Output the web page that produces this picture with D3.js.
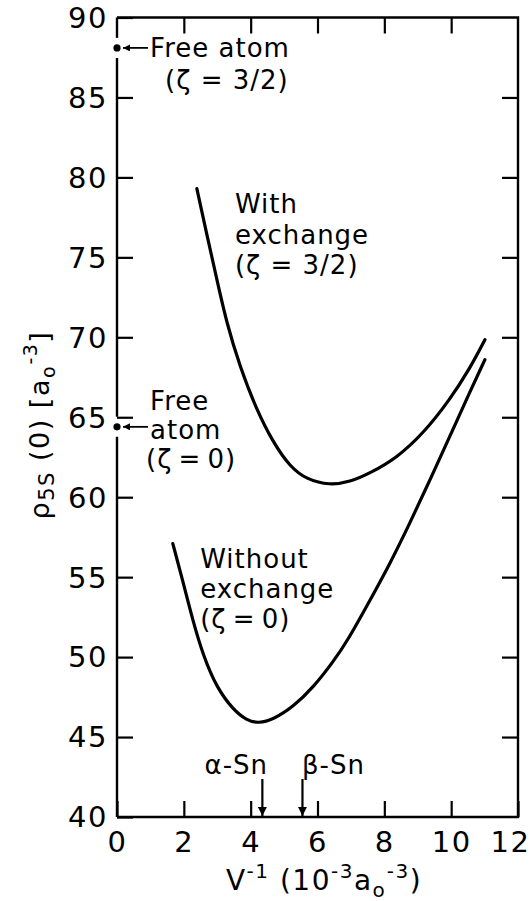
<!DOCTYPE html>
<html>
<head>
<meta charset="utf-8">
<script src="https://cdn.jsdelivr.net/npm/d3@7"></script>
<style>
  html, body { margin: 0; padding: 0; background: #fff; }
  svg { display: block; }
  text { font-family: "DejaVu Sans", sans-serif; fill: #000; }
</style>
</head>
<body>
<div id="chart"></div>
<script>
// axis ticks
const xTicks = [0, 2, 4, 6, 8, 10, 12];
const yTicks = [40, 45, 50, 55, 60, 65, 70, 75, 80, 85, 90];

// with exchange (zeta = 3/2)
const withX = [2.39, 2.68, 2.98, 3.28, 3.68, 4.18, 4.68, 5.18, 5.68, 6.37, 6.97, 7.57, 8.37, 9.17, 9.96, 10.56, 11.01];
const withY = [79.3, 76.5, 73.7, 70.9, 68.15, 65.45, 63.4, 61.9, 61.1, 60.75, 60.95, 61.5, 62.45, 64.0, 66.1, 68.05, 69.85];

// without exchange (zeta = 0)
const withoutX = [1.67, 1.99, 2.28, 2.58, 2.98, 3.48, 3.88, 4.23, 4.68, 5.28, 5.87, 6.47, 6.92, 7.57, 8.17, 8.77, 9.37, 9.96, 10.56, 11.01];
const withoutY = [57.1, 54.6, 52.2, 50.1, 48.1, 46.7, 46.05, 45.85, 46.1, 46.9, 48.1, 49.7, 51.1, 53.55, 55.85, 58.4, 61.1, 63.8, 66.6, 68.6];

// free atom values at V^-1 = 0
const freeAtomY = [88.1, 64.4];

// crystal markers
const phaseNames = ["α-Sn", "β-Sn"];
const phaseX = [4.35, 5.55];

const width = 532, height = 901;
const svg = d3.select("#chart").append("svg")
  .attr("width", width)
  .attr("height", height);

const x = d3.scaleLinear().domain([0, 12]).range([117, 518]);
const y = d3.scaleLinear().domain([40, 90]).range([817, 17.5]);

const defs = svg.append("defs");
const addHead = (id, w, h) => defs.append("marker")
  .attr("id", id)
  .attr("viewBox", "0 0 10 10")
  .attr("refX", 10).attr("refY", 5)
  .attr("markerWidth", h).attr("markerHeight", w)
  .attr("markerUnits", "userSpaceOnUse")
  .attr("orient", "auto")
  .append("path")
  .attr("d", "M0,0L10,5L0,10z")
  .attr("fill", "#000");
addHead("headBig", 9, 15);
addHead("headSmall", 7, 10);

// frame (top, right, bottom)
svg.append("path")
  .attr("d", `M${x(0)},${y(90)}H${x(12)}V${y(40)}H${x(0)}`)
  .attr("fill", "none")
  .attr("stroke", "#000")
  .attr("stroke-width", 2.4);

// left axis line with gaps around the free atom dots
const gap = 10;
const dotsPx = freeAtomY.map(d => y(d));
const segs = [[y(90), dotsPx[0] - gap], [dotsPx[0] + gap, dotsPx[1] - gap], [dotsPx[1] + gap, y(40)]];
svg.append("g").selectAll("line")
  .data(segs)
  .enter().append("line")
  .attr("x1", x(0)).attr("x2", x(0))
  .attr("y1", d => d[0]).attr("y2", d => d[1])
  .attr("stroke", "#000")
  .attr("stroke-width", 2.4);

// axes, ticks pointing inward
const tickLen = 16;
const styleAxis = g => {
  g.select(".domain").remove();
  g.selectAll(".tick line").attr("stroke", "#000").attr("stroke-width", 2.2);
  g.selectAll(".tick text")
    .attr("font-size", 29)
    .attr("letter-spacing", 1.5)
    .attr("font-family", "DejaVu Sans");
};

svg.append("g")
  .attr("transform", `translate(0,${y(40)})`)
  .call(d3.axisBottom(x).tickValues(xTicks).tickSize(-tickLen).tickPadding(14).tickFormat(d3.format("d")))
  .call(styleAxis)
  .call(g => g.selectAll(".tick text").filter(d => d === 12).attr("dx", -8));

svg.append("g")
  .attr("transform", `translate(0,${y(90)})`)
  .call(d3.axisTop(x).tickValues(xTicks.slice(1, -1)).tickSize(-tickLen).tickFormat(""))
  .call(styleAxis);

svg.append("g")
  .attr("transform", `translate(${x(0)},0)`)
  .call(d3.axisLeft(y).tickValues(yTicks).tickSize(-tickLen).tickPadding(9).tickFormat(d3.format("d")))
  .call(styleAxis)
  .call(g => g.selectAll(".tick text").attr("dy", "0.34em"));

svg.append("g")
  .attr("transform", `translate(${x(12)},0)`)
  .call(d3.axisRight(y).tickValues(yTicks.slice(1, -1)).tickSize(-tickLen).tickFormat(""))
  .call(styleAxis);

// curves
const line = d3.line()
  .x(d => x(d[0]))
  .y(d => y(d[1]))
  .curve(d3.curveBasis);

const curves = [d3.zip(withX, withY), d3.zip(withoutX, withoutY)];
svg.append("g").selectAll("path")
  .data(curves)
  .enter().append("path")
  .attr("d", line)
  .attr("fill", "none")
  .attr("stroke", "#000")
  .attr("stroke-width", 3.2)
  .attr("stroke-linecap", "round");

// free atom dots and arrows
svg.append("g").selectAll("circle")
  .data(freeAtomY)
  .enter().append("circle")
  .attr("cx", x(0))
  .attr("cy", d => y(d))
  .attr("r", 3.6)
  .attr("fill", "#000");

svg.append("g").selectAll("line")
  .data(freeAtomY)
  .enter().append("line")
  .attr("x1", x(0) + 31).attr("x2", x(0) + 6)
  .attr("y1", d => y(d)).attr("y2", d => y(d))
  .attr("stroke", "#000")
  .attr("stroke-width", 1.8)
  .attr("marker-end", "url(#headSmall)");

// text blocks: [x, baseline y, lines, line step]
const fs = 26;
const addLines = (x0, y0, lines, step) => {
  const t = svg.append("text")
    .attr("font-size", fs)
    .attr("letter-spacing", 1);
  lines.forEach((s, i) => {
    t.append("tspan")
      .attr("x", Array.isArray(s) ? x0 + s[1] : x0)
      .attr("y", y0 + i * step)
      .text(Array.isArray(s) ? s[0] : s);
  });
};

const zeta0 = "(ζ\u2009=\u20090)";
addLines(x(0.99), y(87.5), ["Free atom", ["(ζ = 3/2)", 15]], 32);
addLines(x(0.99), y(65.45), ["Free", "atom", [zeta0, -4]], 29);
addLines(x(3.53), y(77.75), ["With", "exchange", "(ζ = 3/2)"], 30.5);
addLines(x(2.49), y(55.55), ["Without", "exchange", zeta0], 30);

// alpha / beta Sn markers
svg.append("g").selectAll("line")
  .data(phaseX)
  .enter().append("line")
  .attr("x1", d => x(d)).attr("x2", d => x(d))
  .attr("y1", 779).attr("y2", y(40) - 1)
  .attr("stroke", "#000")
  .attr("stroke-width", 2.2)
  .attr("marker-end", "url(#headBig)");

const phaseAnchor = [-26, 31];
svg.append("g").selectAll("text")
  .data(phaseNames)
  .enter().append("text")
  .attr("x", (d, i) => x(phaseX[i]) + phaseAnchor[i])
  .attr("y", 774)
  .attr("text-anchor", "middle")
  .attr("font-size", 26)
  .attr("letter-spacing", 1)
  .text(d => d);

// x axis title
const xt = svg.append("text")
  .attr("x", 324).attr("y", 890)
  .attr("text-anchor", "middle")
  .attr("font-size", 28)
  .attr("letter-spacing", 1.5);
xt.append("tspan").text("V");
xt.append("tspan").attr("font-size", 20).attr("dy", -12).text("-1");
xt.append("tspan").attr("dy", 12).text("  (10");
xt.append("tspan").attr("font-size", 20).attr("dy", -12).text("-3");
xt.append("tspan").attr("dy", 12).text("a");
xt.append("tspan").attr("font-size", 20).attr("dy", 7).text("o");
xt.append("tspan").attr("font-size", 20).attr("dy", -19).text("-3");
xt.append("tspan").attr("dy", 12).text(")");

// y axis title
const yt = svg.append("text")
  .attr("transform", "translate(49,425) rotate(-90)")
  .attr("text-anchor", "middle")
  .attr("font-size", 27)
  .attr("letter-spacing", 1.5);
yt.append("tspan").text("ρ");
yt.append("tspan").attr("font-size", 21).attr("dy", 5).text("5S");
yt.append("tspan").attr("dy", -5).text(" (0)  [a");
yt.append("tspan").attr("font-size", 19).attr("dy", 6).text("o");
yt.append("tspan").attr("font-size", 19).attr("dy", -18).text("-3");
yt.append("tspan").attr("dy", 12).text("]");
</script>
</body>
</html>
